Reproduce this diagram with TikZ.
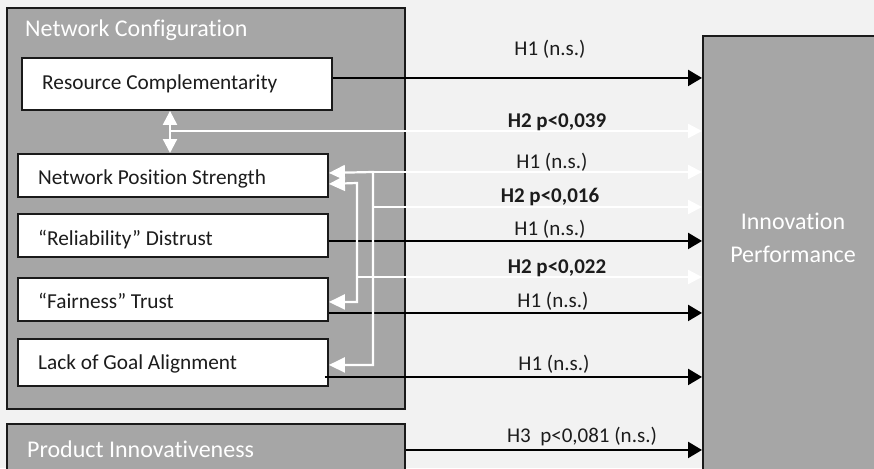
\documentclass[tikz,border=0pt]{standalone}
\usepackage{fontspec}
\setmainfont{Carlito}[RawFeature={-liga;-clig}]
\usetikzlibrary{arrows.meta}
\definecolor{pagebg}{HTML}{F2F2F2}
\definecolor{panel}{HTML}{A6A6A6}
\definecolor{edge}{HTML}{1A1A1A}
\definecolor{ink}{HTML}{1C1C1C}
\tikzset{
  panelbox/.style={draw=edge, line width=1.9pt, fill=panel, rectangle, inner sep=0pt, anchor=north west},
  itembox/.style={draw=edge, line width=1.9pt, fill=white, rectangle, inner sep=0pt, anchor=north west},
  bigtxt/.style={anchor=base west, inner sep=0pt, text=white, font=\fontsize{24}{28}\selectfont},
  itemtxt/.style={anchor=base west, inner sep=0pt, text=ink, font=\fontsize{21.3}{25}\selectfont},
  lbl/.style={anchor=base, inner sep=0pt, text=ink, font=\fontsize{21}{25}\selectfont},
  lblb/.style={lbl, font=\fontsize{21}{25}\selectfont\bfseries},
  blk/.style={draw=black, line width=2.4pt, -{Triangle[length=14pt,width=16pt]}},
  wht/.style={draw=white, line width=2.2pt},
}
\begin{document}
\begin{tikzpicture}[x=1pt,y=-1pt]
  \useasboundingbox (0,0) rectangle (874,468);
  \fill[pagebg] (0,0) rectangle (874,468);

  % grey panels
  \node[panelbox, minimum width=398pt, minimum height=401pt] (nc) at (6,7) {};
  \node[panelbox, minimum width=398pt, minimum height=52pt] (pi) at (6,423) {};
  \node[panelbox, minimum width=190pt, minimum height=445pt] (ip) at (702,35) {};
  \node[bigtxt] (nct) at (25,37) {Network Configuration};
  \node[bigtxt] (pit) at (27,457) {Product Innovativeness};
  \node[bigtxt, anchor=base] (ipt1) at (793,229) {Innovation};
  \node[bigtxt, anchor=base] (ipt2) at (793,262) {Performance};

  % white construct boxes
  \node[itembox, minimum width=310pt, minimum height=52pt] (rc) at (21,57) {};
  \node[itembox, minimum width=310pt, minimum height=43pt] (nps) at (17,153) {};
  \node[itembox, minimum width=310pt, minimum height=43pt] (rel) at (17,213) {};
  \node[itembox, minimum width=310pt, minimum height=43pt] (fair) at (17,277) {};
  \node[itembox, minimum width=310pt, minimum height=47pt] (lga) at (17,338) {};
  \node[itemtxt] (rct) at (42,90) {Resource Complementarity};
  \node[itemtxt] (npst) at (38,184) {Network Position Strength};
  \node[itemtxt] (relt) at (38,245) {“Reliability” Distrust};
  \node[itemtxt] (fairt) at (38,308) {“Fairness” Trust};
  \node[itemtxt] (lgat) at (38,369) {Lack of Goal Alignment};

  % direct effects (black)
  \coordinate (rco) at ([yshift=6pt]rc.east);
  \coordinate (relo) at ([yshift=-5.5pt]rel.east);
  \coordinate (fairo) at ([yshift=-13.5pt]fair.east);
  \coordinate (lgao) at ([xshift=-4pt,yshift=-14.5pt]lga.east);
  \draw[blk] (rco) -- (rco -| ip.west);
  \draw[blk] (relo) -- (relo -| ip.west);
  \draw[blk] (fairo) -- (fairo -| ip.west);
  \draw[blk] (lgao) -- (lgao -| ip.west);
  \draw[blk] (pi.east) -- (pi.east -| ip.west);

  % interaction paths (white)
  \coordinate (jx) at (170,131);
  \coordinate (ja) at (373,172);
  \coordinate (jb) at (357,183);
  \coordinate (jc) at (373,207);
  \coordinate (jd) at (357,277);
  \draw[wht, {Triangle[length=14pt,width=14pt]}-{Triangle[length=14pt,width=14pt]}]
    (rc.south -| jx) -- (nps.north -| jx);
  \draw[wht, -{Triangle[length=14pt,width=14pt]}] (jx) -- (jx -| ip.west);
  \draw[wht, {Triangle[length=16pt,width=15pt]}-{Triangle[length=16pt,width=15pt]}]
    ([yshift=2.5pt]nps.east) -- (ja) |- ([yshift=-2.5pt]lga.east);
  \draw[wht, {Triangle[length=16pt,width=15pt]}-{Triangle[length=16pt,width=15pt]}]
    ([yshift=-8.5pt]nps.east) -- (jb) |- ([yshift=-2.5pt]fair.east);
  \draw[wht, -{Triangle[length=14pt,width=14pt]}] (ja) -- (ja -| ip.west);
  \draw[wht, -{Triangle[length=14pt,width=14pt]}] (jc) -- (jc -| ip.west);
  \draw[wht, -{Triangle[length=14pt,width=14pt]}] (jd) -- (jd -| ip.west);

  % path labels
  \node[lbl] (l1) at (550,56) {H1 (n.s.)};
  \node[lblb] (l2) at (557,127) {H2 p<0,039};
  \node[lbl] (l3) at (552,168) {H1 (n.s.)};
  \node[lblb] (l4) at (550,202) {H2 p<0,016};
  \node[lbl] (l5) at (550,235) {H1 (n.s.)};
  \node[lblb] (l6) at (557,273) {H2 p<0,022};
  \node[lbl] (l7) at (553,307) {H1 (n.s.)};
  \node[lbl] (l8) at (554,370) {H1 (n.s.)};
  \node[lbl] (l9) at (582,442) {H3\ \ p<0,081 (n.s.)};
\end{tikzpicture}
\end{document}
